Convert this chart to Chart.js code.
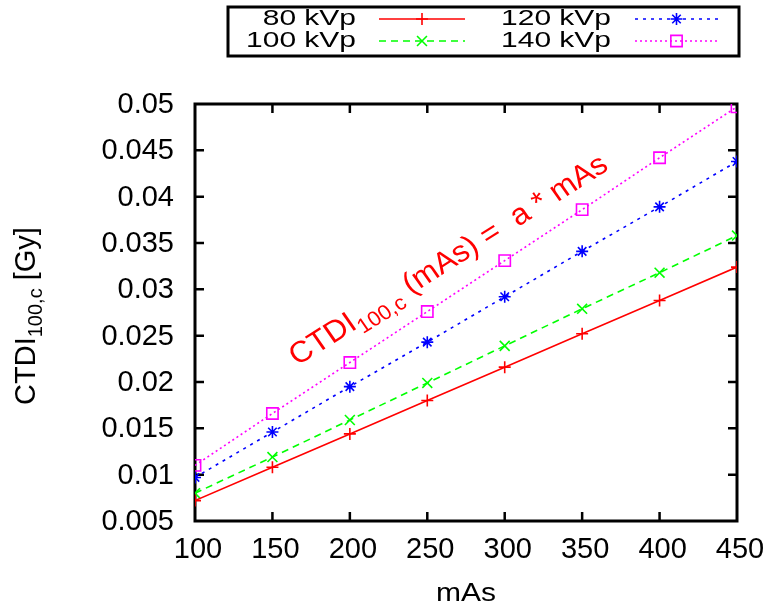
<!DOCTYPE html>
<html>
<head>
<meta charset="utf-8">
<script src="https://cdn.jsdelivr.net/npm/chart.js@4/dist/chart.umd.min.js"></script>
<style>
  html, body { margin: 0; padding: 0; background: #fff; }
  #wrap { width: 769px; height: 610px; }
</style>
</head>
<body>
<div id="wrap"><canvas id="chart"></canvas></div>
<script>
// mAs on the x axis
const mAs = [100, 150, 200, 250, 300, 350, 400, 450];
// CTDI100,c [Gy]
const kvp80 = [0.0072, 0.0108, 0.0144, 0.0180, 0.0216, 0.0252, 0.0288, 0.0324];
const kvp100 = [0.0080, 0.0119, 0.0159, 0.0199, 0.0239, 0.0279, 0.0318, 0.0358];
const kvp120 = [0.0097, 0.0146, 0.0195, 0.0243, 0.0292, 0.0341, 0.0389, 0.0438];
const kvp140 = [0.0110, 0.0166, 0.0221, 0.0276, 0.0331, 0.0386, 0.0442, 0.0497];
const seriesNames = ["80 kVp", "100 kVp", "120 kVp", "140 kVp"];

const FONT = "'Liberation Sans', Arial, sans-serif";

function pts(ys) {
  return mAs.map((x, i) => ({ x: x, y: ys[i] }));
}

// draw text with an optional stretch (the original image is a bit distorted)
function stretchText(ctx, text, x, y, size, sx, sy, align, color) {
  ctx.save();
  ctx.translate(x, y);
  ctx.scale(sx, sy);
  ctx.font = size + "px " + FONT;
  ctx.fillStyle = color || "#000";
  ctx.textAlign = align;
  ctx.textBaseline = "middle";
  ctx.fillText(text, 0, 0);
  ctx.restore();
}

// "main" + subscript + rest, starting at 0,0 baseline
function drawSub(ctx, main, sub, rest, big, small, drop, centered) {
  ctx.textBaseline = "alphabetic";
  ctx.textAlign = "left";
  ctx.font = big + "px " + FONT;
  const w1 = ctx.measureText(main).width;
  const w3 = ctx.measureText(rest).width;
  ctx.font = small + "px " + FONT;
  const w2 = ctx.measureText(sub).width;
  const x0 = centered ? -(w1 + w2 + w3) / 2 : 0;
  ctx.font = big + "px " + FONT;
  ctx.fillText(main, x0, 0);
  ctx.font = small + "px " + FONT;
  ctx.fillText(sub, x0 + w1, drop);
  ctx.font = big + "px " + FONT;
  ctx.fillText(rest, x0 + w1 + w2, 0);
}

// frame, inward ticks, tick labels, titles, legend (gnuplot look)
const gnuplotLook = {
  id: "gnuplotLook",
  beforeDatasetsDraw(chart) {
    const { ctx, chartArea: a, scales: { x, y } } = chart;
    ctx.save();
    ctx.strokeStyle = "#000";
    ctx.lineWidth = 2.5;
    ctx.beginPath();
    x.ticks.forEach((t) => {
      const px = x.getPixelForValue(t.value);
      stretchText(ctx, t.label, px + 3, 550, 29, 1, 1, "center");
      if (t.value <= x.min || t.value >= x.max) return;
      ctx.moveTo(px, a.bottom); ctx.lineTo(px, a.bottom - 9);
      ctx.moveTo(px, a.top); ctx.lineTo(px, a.top + 9);
    });
    y.ticks.forEach((t) => {
      const py = y.getPixelForValue(t.value);
      stretchText(ctx, t.label, 174, py + 1, 29, 1, 1, "right");
      if (t.value <= y.min + 1e-9 || t.value >= y.max - 1e-9) return;
      ctx.moveTo(a.left, py); ctx.lineTo(a.left + 9, py);
      ctx.moveTo(a.right, py); ctx.lineTo(a.right - 9, py);
    });
    ctx.stroke();
    ctx.lineWidth = 3;
    ctx.strokeRect(a.left, a.top, a.right - a.left, a.bottom - a.top);
    ctx.restore();
  },
  afterDraw(chart) {
    const { ctx, chartArea: a, scales: { x, y } } = chart;
    ctx.save();
    ctx.fillStyle = "#000";

    // y axis title
    ctx.save();
    ctx.translate(35, 316);
    ctx.rotate(-Math.PI / 2);
    drawSub(ctx, "CTDI", "100,c", " [Gy]", 29, 20, 7, true);
    ctx.restore();

    // x axis title
    stretchText(ctx, "mAs", (a.left + a.right) / 2, 594, 25, 1.2, 1, "center");

    // fit annotation
    ctx.save();
    ctx.fillStyle = "#ff0000";
    ctx.translate(x.getPixelForValue(166), y.getPixelForValue(0.0217));
    ctx.scale(1.05, 1);
    ctx.rotate(-33.5 * Math.PI / 180);
    drawSub(ctx, "CTDI", "100,c", " (mAs) =  a * mAs", 30, 21, 8, false);
    ctx.restore();

    // legend box
    ctx.lineWidth = 3;
    ctx.strokeStyle = "#000";
    ctx.strokeRect(228, 7, 511, 49);
    const slots = [
      { tx: 356, l0: 379, l1: 465, ty: 19 },
      { tx: 356, l0: 379, l1: 465, ty: 41 },
      { tx: 611, l0: 635, l1: 718, ty: 19 },
      { tx: 611, l0: 635, l1: 718, ty: 41 },
    ];
    chart.data.datasets.forEach((ds, i) => {
      const s = slots[i];
      stretchText(ctx, ds.label, s.tx, s.ty, 28, 1.07, 0.8, "right");
      ctx.strokeStyle = ds.borderColor;
      ctx.lineWidth = ds.borderWidth;
      ctx.setLineDash(ds.borderDash || []);
      ctx.beginPath();
      ctx.moveTo(s.l0, s.ty); ctx.lineTo(s.l1, s.ty);
      ctx.stroke();
      ctx.setLineDash([]);
      ctx.lineWidth = ds.pointBorderWidth;
      ctx.fillStyle = "rgba(0,0,0,0)";
      Chart.helpers.drawPoint(ctx, {
        pointStyle: ds.pointStyle, radius: ds.pointRadius, rotation: 0,
        borderWidth: ds.pointBorderWidth
      }, (s.l0 + s.l1) / 2, s.ty);
    });
    ctx.restore();
  }
};

new Chart(document.getElementById("chart"), {
  type: "line",
  data: {
    datasets: [
      { label: seriesNames[0], data: pts(kvp80), borderColor: "#ff0000", borderWidth: 1.6,
        pointStyle: "cross", pointRadius: 6, pointBorderWidth: 1.6, pointBorderColor: "#ff0000",
        pointBackgroundColor: "rgba(0,0,0,0)" },
      { label: seriesNames[1], data: pts(kvp100), borderColor: "#00ff00", borderWidth: 1.6, borderDash: [7, 5],
        pointStyle: "crossRot", pointRadius: 7, pointBorderWidth: 1.6, pointBorderColor: "#00ff00",
        pointBackgroundColor: "rgba(0,0,0,0)" },
      { label: seriesNames[2], data: pts(kvp120), borderColor: "#0000ff", borderWidth: 1.6, borderDash: [3, 5],
        pointStyle: "star", pointRadius: 6, pointBorderWidth: 1.6, pointBorderColor: "#0000ff",
        pointBackgroundColor: "rgba(0,0,0,0)" },
      { label: seriesNames[3], data: pts(kvp140), borderColor: "#ff00ff", borderWidth: 1.6, borderDash: [2, 3],
        pointStyle: "rect", pointRadius: 8, pointBorderWidth: 1.6, pointBorderColor: "#ff00ff",
        pointBackgroundColor: "rgba(0,0,0,0)" },
    ],
  },
  options: {
    responsive: true,
    maintainAspectRatio: false,
    animation: false,
    layout: { padding: { top: 104, right: 32, left: 0, bottom: 0 } },
    plugins: { legend: { display: false }, tooltip: { enabled: false } },
    scales: {
      x: {
        type: "linear", min: 100, max: 450,
        grid: { display: false, drawTicks: false },
        border: { display: false },
        ticks: { display: false, stepSize: 50 },
        afterFit: (s) => { s.height = 89; },
      },
      y: {
        min: 0.005, max: 0.05,
        grid: { display: false, drawTicks: false },
        border: { display: false },
        ticks: {
          display: false, stepSize: 0.005,
          callback: (v) => String(+v.toFixed(3)),
        },
        afterFit: (s) => { s.width = 195; },
      },
    },
  },
  plugins: [gnuplotLook],
});
</script>
</body>
</html>
